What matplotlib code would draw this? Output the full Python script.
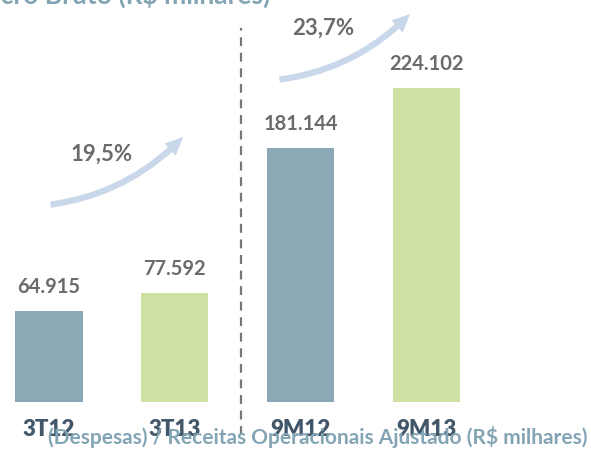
import matplotlib
matplotlib.use('Agg')
import matplotlib.pyplot as plt
from matplotlib.patches import FancyArrowPatch

categories = ['3T12', '3T13', '9M12', '9M13']
values = [64.915, 77.592, 181.144, 224.102]
value_labels = ['64.915', '77.592', '181.144', '224.102']
growth = ['19,5%', '23,7%']
title = 'Lucro Bruto (R$ milhares)'
footer = '(Despesas) / Receitas Operacionais Ajustado (R$ milhares)'

plt.rcParams['font.family'] = ['Lato', 'DejaVu Sans']

BLUE = '#8aa8b5'
GREEN = '#cfe0a3'
TXT = '#6b6b6b'
CAT = '#42586a'
HEAD = '#82a4b4'
ARROW = '#c8d8ea'

fig = plt.figure(figsize=(5.91, 4.5), dpi=100)
ax = fig.add_axes([0, 48 / 450, 1, 402 / 450])
ax.set_xlim(-0.3895, 4.308)
ax.set_ylim(0, 287.1)
ax.axis('off')

x = list(range(len(categories)))
ax.bar(x, values, width=0.533, color=[BLUE, GREEN, BLUE, GREEN])

for xi, v, lab in zip(x, values, value_labels):
    ax.annotate(lab, (xi, v), xytext=(0, 10), textcoords='offset points',
                ha='center', va='bottom', fontsize=14.5, fontweight='bold', color=TXT)
    ax.annotate(categories[xi], (xi, 0), xytext=(0, -12), textcoords='offset points',
                ha='center', va='top', fontsize=16, fontweight='heavy', color=CAT)

# divider between quarter and nine-month figures
ax.vlines(1.526, -23.6, 267, colors='#777777', linestyles=(0, (4, 3)), linewidth=1.6, clip_on=False)

# growth arrows
arrows = [((-0.01, 140.7), (1.08, 190.7)), ((1.81, 230), (2.885, 278.6))]
for (p0, p1) in arrows:
    arr = FancyArrowPatch(p0, p1, connectionstyle='arc3,rad=0.18',
                          arrowstyle='simple,head_width=12,head_length=13,tail_width=4.5',
                          color=ARROW, lw=0, clip_on=False)
    ax.add_patch(arr)

ax.text(0.42, 177, growth[0], ha='center', va='center', fontsize=16, fontweight='bold', color=TXT)
ax.text(2.18, 267, growth[1], ha='center', va='center', fontsize=16, fontweight='bold', color=TXT)

fig.text(270 / 591, 1 - 4 / 450, title, ha='right', va='baseline', fontsize=19,
         fontweight='bold', color=HEAD)
fig.text(588 / 591, 6 / 450, footer, ha='right', va='baseline', fontsize=15,
         fontweight='bold', color=HEAD)

fig.savefig('out.png', dpi=100)
